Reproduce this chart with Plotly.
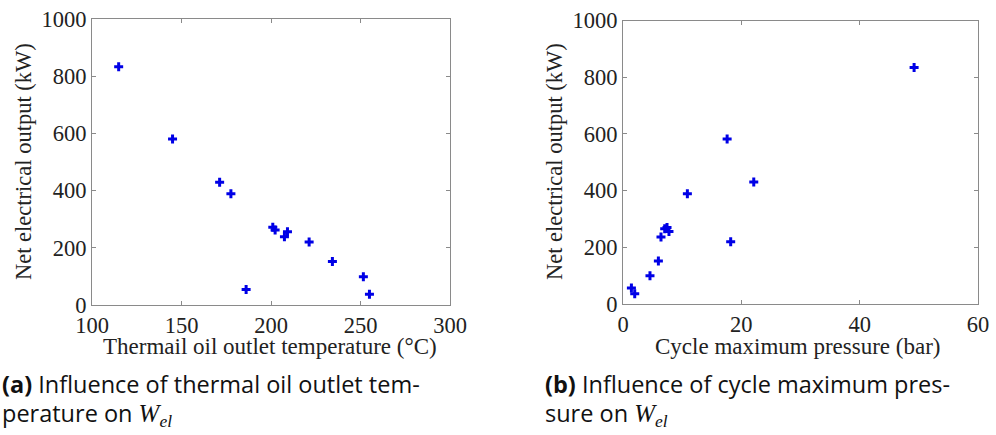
import plotly.graph_objects as go

# Panel (a): thermal oil outlet temperature vs net electrical output
temp_c = [114.9, 145.0, 171.3, 177.6, 186.1, 201.0, 202.3, 207.5, 209.2, 221.3, 234.3, 251.6, 255.0]
power_a_kw = [833, 580, 429, 389, 54, 272, 262, 239, 256, 220, 152, 99, 38]

# Panel (b): cycle maximum pressure vs net electrical output
pressure_bar = [1.42, 1.98, 4.56, 5.98, 6.42, 7.05, 7.44, 7.77, 10.88, 17.6, 18.2, 22.1, 49.2]
power_b_kw = [56, 36, 100, 152, 236, 265, 270, 256, 389, 582, 220, 430, 834]

x_ticks_a = [100, 150, 200, 250, 300]
x_ticks_b = [0, 20, 40, 60]
y_ticks = [0, 200, 400, 600, 800, 1000]

W, H = 996, 435
serif = "Liberation Serif, Times New Roman, serif"
sans = "Open Sans, Liberation Sans, sans-serif"
blue = "#0000e6"
axis_grey = "#8a8a8a"
text_col = "#222222"

fig = go.Figure()
marker = dict(symbol="cross", size=7.5, color=blue, line=dict(width=0))
fig.add_trace(go.Scatter(x=temp_c, y=power_a_kw, mode="markers", marker=marker,
                         xaxis="x", yaxis="y", showlegend=False, cliponaxis=False))
fig.add_trace(go.Scatter(x=pressure_bar, y=power_b_kw, mode="markers", marker=marker,
                         xaxis="x2", yaxis="y2", showlegend=False, cliponaxis=False))

def ax(domain, rng, ticks, anchor):
    return dict(domain=domain, range=rng, tickvals=ticks, ticktext=[str(t) for t in ticks],
                showgrid=False, zeroline=False, showline=True, linecolor=axis_grey, linewidth=1,
                mirror="ticks", ticks="inside", ticklen=4, tickcolor=axis_grey, automargin=False,
                tickfont=dict(family=serif, size=22.5, color=text_col), anchor=anchor)

fig.update_layout(
    width=W, height=H, autosize=False,
    margin=dict(l=0, r=0, t=0, b=0, pad=0, autoexpand=False),
    paper_bgcolor="white", plot_bgcolor="white",
    xaxis=ax([92 / W, 450 / W], [100, 300], x_ticks_a, "y"),
    yaxis=ax([1 - 305 / H, 1 - 19 / H], [0, 1000], y_ticks, "x"),
    xaxis2=ax([623 / W, 978 / W], [0, 60], x_ticks_b, "y2"),
    yaxis2=ax([1 - 304 / H, 1 - 20.5 / H], [0, 1000], y_ticks, "x2"),
)

def ann(text, x, y, size, family, angle=0, xanchor="center", color=text_col):
    fig.add_annotation(text=text, x=x / W, y=1 - y / H, xref="paper", yref="paper",
                       showarrow=False, textangle=angle, xanchor=xanchor, yanchor="middle",
                       font=dict(family=family, size=size, color=color))

ann("Net electrical output (kW)", 23, 162, 22.5, serif, angle=-90)
ann("Net electrical output (kW)", 554, 162, 22.5, serif, angle=-90)
ann("Thermail oil outlet temperature (°C)", 270, 346, 23, serif)
ann("Cycle maximum pressure (bar)", 798, 346, 23, serif)

wel = "<span style='font-family:Liberation Serif;font-size:25px'><i>W</i><sub><i>el</i></sub></span>"
ann("<b>(a)</b> Influence of thermal oil outlet tem-", 0, 384, 23.5, sans, xanchor="left", color="#111111")
ann("perature on " + wel, 0, 414, 23.5, sans, xanchor="left", color="#111111")
ann("<b>(b)</b> Influence of cycle maximum pres-", 543, 384, 23.5, sans, xanchor="left", color="#111111")
ann("sure on " + wel, 543, 414, 23.5, sans, xanchor="left", color="#111111")

fig.write_html("out.html", config={"displayModeBar": False},
               post_script="document.body.style.margin='0px';document.body.style.overflow='hidden';")
